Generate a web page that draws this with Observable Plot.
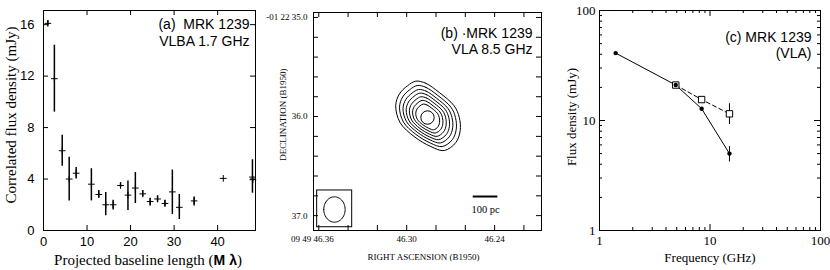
<!DOCTYPE html>
<html><head><meta charset="utf-8">
<script src="https://cdn.jsdelivr.net/npm/d3@7"></script>
<script src="https://cdn.jsdelivr.net/npm/@observablehq/plot@0.6"></script>
<style>
html,body{margin:0;padding:0;background:#fff;}
#wrap{position:relative;width:830px;height:270px;overflow:hidden;background:#fff;}
#wrap > div{position:absolute;top:0;height:270px;}
#wrap svg{overflow:visible;}
</style></head><body>
<div id="wrap"><div id="pa" style="left:0;width:280px"></div><div id="pb" style="left:280px;width:270px"></div><div id="pc" style="left:550px;width:280px"></div></div>
<script>
// ---------- Panel (a) data: VLBA 1.7 GHz visibility amplitudes ----------
const baseline = [1.0, 2.5, 4.3, 5.9, 7.5, 11.0, 12.7, 14.3, 16.0, 17.7, 19.4, 21.1, 22.8, 24.5, 26.2, 27.9, 29.6, 31.2, 34.6, 41.3, 48.0, 48.1];
const corrFlux = [16.1, 11.8, 6.2, 4.0, 4.45, 3.6, 2.8, 2.0, 2.0, 3.5, 2.75, 3.3, 2.85, 2.25, 2.45, 2.1, 3.0, 1.8, 2.3, 4.05, 4.15, 3.95];
const corrLo = [15.9, 9.2, 5.0, 2.3, 4.0, 2.3, 2.5, 1.15, 1.6, 3.35, 1.55, 2.1, 2.6, 1.9, 2.2, 1.85, 1.25, 0.85, 1.9, 4.05, 2.9, 3.95];
const corrHi = [16.3, 14.4, 7.4, 5.7, 4.9, 4.8, 3.1, 2.95, 2.35, 3.7, 3.85, 4.5, 3.1, 2.5, 2.7, 2.35, 4.7, 2.8, 2.6, 4.05, 5.5, 3.95];
const aXTicks = [0, 10, 20, 30, 40];
const aYTicks = [0, 4, 8, 12, 16];

// ---------- Panel (b) data: VLA 8.5 GHz map ----------
const raTicks = [46.36, 46.34, 46.32, 46.30, 46.28, 46.26, 46.24, 46.22];
const raLabelTicks = [46.36, 46.30, 46.24];
const raLabels = ["09 49 46.36", "46.30", "46.24"];
const decTicks = [35.0, 35.2, 35.4, 35.6, 35.8, 36.0, 36.2, 36.4, 36.6, 36.8, 37.0];
const decLabelTicks = [35.0, 36.0, 37.0];
const decLabels = ["-01 22 35.0", "36.0", "37.0"];
const peakRA = 46.2858, peakDec = 36.01;
// outer contour vertices (offsets from peak: RA in s, Dec in arcsec)
const outerRA = [0.0080, 0.0012, -0.0080, -0.0182, -0.0217, -0.0223, -0.0193, -0.0114, -0.0023, 0.0091, 0.0187, 0.0217, 0.0193, 0.0137];
const outerDec = [-0.367, -0.346, -0.253, -0.118, 0.0, 0.134, 0.253, 0.333, 0.293, 0.192, 0.051, -0.118, -0.235, -0.320];
const contourScales = [1, 0.88, 0.77, 0.67, 0.57, 0.47, 0.37];
const beamBoxRA = [46.3611, 46.3372];
const beamBoxDec = [36.746, 37.117];
const beamRA = 46.3493, beamDec = 36.938, beamHalfRA = 0.0073, beamHalfDec = 0.128;
const scaleBarRA = [46.2546, 46.2378];
const scaleBarDec = 36.807;
const scaleLabel = "100 pc";

// ---------- Panel (c) data: VLA spectrum ----------
const freqSolid = [1.4, 4.9, 8.4, 15.0];
const fluxSolid = [41, 21, 12.8, 5.0];
const solidLo = [41, 21, 12.8, 4.2];
const solidHi = [41, 21, 12.8, 5.8];
const freqDashed = [4.9, 8.4, 15.0];
const fluxDashed = [21, 15.5, 11.5];
const dashedLo = [21, 15.5, 9.2];
const dashedHi = [21, 15.5, 14.2];
const cMajor = [1, 10, 100];
const cMinor = [2, 3, 4, 5, 6, 7, 8, 9, 20, 30, 40, 50, 60, 70, 80, 90];

const sans = "'Liberation Sans', Arial, Helvetica, sans-serif";
const serif = "'Liberation Serif', 'Times New Roman', Times, serif";
const baseStyle = {fontFamily: serif, background: "transparent", overflow: "visible", color: "#000"};
const LM = {lineAnchor: "middle"};

function xTicks(vals, fh, len, o = {}) {
  return [Plot.ruleX(vals, {x: d => d, insetTop: fh - len, stroke: "#000", ...o}),
          Plot.ruleX(vals, {x: d => d, insetBottom: fh - len, stroke: "#000", ...o})];
}
function yTicks(vals, fw, len, o = {}) {
  return [Plot.ruleY(vals, {y: d => d, insetRight: fw - len, stroke: "#000", ...o}),
          Plot.ruleY(vals, {y: d => d, insetLeft: fw - len, stroke: "#000", ...o})];
}

// ---------- Panel (a) ----------
{
  const m = {top: 10, right: 25, bottom: 40, left: 43};
  const fh = 270 - m.top - m.bottom, fw = 280 - m.left - m.right;
  const pts = baseline.map((b, i) => ({b, f: corrFlux[i], lo: corrLo[i], hi: corrHi[i]}));
  const svg = Plot.plot({
    width: 280, height: 270,
    marginTop: m.top, marginRight: m.right, marginBottom: m.bottom, marginLeft: m.left,
    x: {domain: [0, 48.7], axis: null},
    y: {domain: [0, 17.1], axis: null},
    style: baseStyle,
    marks: [
      Plot.frame({stroke: "#000"}),
      ...xTicks(aXTicks, fh, 5),
      ...yTicks(aYTicks, fw, 5),
      Plot.ruleX(pts.filter(d => d.hi > d.lo), {x: "b", y1: "lo", y2: "hi", stroke: "#000", strokeWidth: 1.5}),
      Plot.dot(pts, {x: "b", y: "f", symbol: "plus", r: 2.3, stroke: "#000", strokeWidth: 1}),
      Plot.text(aXTicks, {x: d => d, text: d => `${d}`, frameAnchor: "bottom", dy: 11, fontFamily: sans, fontSize: 13, ...LM}),
      Plot.text(aYTicks, {y: d => d, text: d => `${d}`, frameAnchor: "left", textAnchor: "end", dx: -9, fontFamily: sans, fontSize: 13, ...LM}),
      Plot.text(["Correlated flux density (mJy)"], {frameAnchor: "left", textAnchor: "middle", rotate: -90, dx: -32, dy: -5.5, fontFamily: serif, fontSize: 15, ...LM}),
      Plot.text(["Projected baseline length (Mλ)"], {frameAnchor: "bottom", textAnchor: "middle", dx: -1.5, dy: 30, fontFamily: serif, fontSize: 15, ...LM}),
      Plot.text(["(a)\u00a0 MRK 1239"], {frameAnchor: "top-right", textAnchor: "end", dx: -6, dy: 14.5, fontFamily: sans, fontSize: 14, ...LM}),
      Plot.text(["VLBA 1.7 GHz"], {frameAnchor: "top-right", textAnchor: "end", dx: -6, dy: 30.8, fontFamily: sans, fontSize: 14, ...LM})
    ]
  });
  d3.select(svg).selectAll("text").filter(function() { return this.textContent === "Projected baseline length (Mλ)"; })
    .each(function() {
      const t = d3.select(this);
      t.text(null);
      t.append("tspan").text("Projected baseline length (");
      t.append("tspan").attr("font-family", sans).attr("font-weight", "bold").attr("font-size", 14).text("M λ");
      t.append("tspan").text(")");
    });
  document.getElementById("pa").appendChild(svg);
}

// ---------- Panel (b) ----------
{
  const m = {top: 12, right: 9, bottom: 40, left: 33};
  const fh = 270 - m.top - m.bottom, fw = 270 - m.left - m.right;
  const contourData = contourScales.flatMap((s, k) => outerRA.map((r, i) => ({k, ra: peakRA + s * r, dec: peakDec + s * outerDec[i]})));
  const beam = d3.range(0, 361, 6).map(t => ({ra: beamRA + beamHalfRA * Math.cos(t * Math.PI / 180), dec: beamDec + beamHalfDec * Math.sin(t * Math.PI / 180)}));
  const svg = Plot.plot({
    width: 270, height: 270,
    marginTop: m.top, marginRight: m.right, marginBottom: m.bottom, marginLeft: m.left,
    x: {domain: [46.3636, 46.208], axis: null},
    y: {domain: [37.15, 34.95], axis: null},
    style: baseStyle,
    marks: [
      Plot.frame({stroke: "#000"}),
      ...xTicks(raTicks, fh, 5),
      ...yTicks(decTicks, fw, 5),
      Plot.line(contourData, {x: "ra", y: "dec", z: "k", curve: "catmull-rom-closed", stroke: "#000", strokeWidth: 1}),
      Plot.dot([{ra: peakRA, dec: peakDec}], {x: "ra", y: "dec", r: 6.7, stroke: "#000", fill: "none", strokeWidth: 1}),
      Plot.rect([{}], {x1: () => beamBoxRA[0], x2: () => beamBoxRA[1], y1: () => beamBoxDec[0], y2: () => beamBoxDec[1], fill: "none", stroke: "#000", strokeWidth: 1}),
      Plot.line(beam, {x: "ra", y: "dec", stroke: "#000", strokeWidth: 1}),
      Plot.ruleY([scaleBarDec], {y: d => d, x1: () => scaleBarRA[0], x2: () => scaleBarRA[1], stroke: "#000", strokeWidth: 2}),
      Plot.text([scaleLabel], {x: () => (scaleBarRA[0] + scaleBarRA[1]) / 2, y: () => 36.943, fontFamily: serif, fontSize: 10.5, ...LM}),
      Plot.text([raLabelTicks[0]], {x: d => d, text: () => raLabels[0], frameAnchor: "bottom", textAnchor: "middle", dy: 8.5, dx: -6.5, fontFamily: serif, fontSize: 9, ...LM}),
      Plot.text(raLabelTicks.slice(1), {x: d => d, text: (d, i) => raLabels[i + 1], frameAnchor: "bottom", textAnchor: "middle", dy: 8.5, fontFamily: serif, fontSize: 9, ...LM}),
      Plot.text(decLabelTicks, {y: d => d, text: (d, i) => decLabels[i], frameAnchor: "left", textAnchor: "end", dx: -6, fontFamily: serif, fontSize: 9, ...LM}),
      Plot.text(["RIGHT ASCENSION (B1950)"], {frameAnchor: "bottom", textAnchor: "middle", dx: -4, dy: 27, fontFamily: serif, fontSize: 9, ...LM}),
      Plot.text(["DECLINATION (B1950)"], {frameAnchor: "left", textAnchor: "middle", rotate: -90, dx: -30, dy: -7, fontFamily: serif, fontSize: 9, ...LM}),
      Plot.text(["(b) ·MRK 1239"], {frameAnchor: "top-right", textAnchor: "end", dx: -9, dy: 21.3, fontFamily: sans, fontSize: 14, ...LM}),
      Plot.text(["VLA 8.5 GHz"], {frameAnchor: "top-right", textAnchor: "end", dx: -9, dy: 37.3, fontFamily: sans, fontSize: 14, ...LM})
    ]
  });
  document.getElementById("pb").appendChild(svg);
}

// ---------- Panel (c) ----------
{
  const m = {top: 10, right: 10, bottom: 40, left: 49};
  const fh = 270 - m.top - m.bottom, fw = 280 - m.left - m.right;
  const solid = freqSolid.map((f, i) => ({f, s: fluxSolid[i], lo: solidLo[i], hi: solidHi[i]}));
  const dashed = freqDashed.map((f, i) => ({f, s: fluxDashed[i], lo: dashedLo[i], hi: dashedHi[i]}));
  const svg = Plot.plot({
    width: 280, height: 270,
    marginTop: m.top, marginRight: m.right, marginBottom: m.bottom, marginLeft: m.left,
    x: {type: "log", domain: [1, 100], axis: null},
    y: {type: "log", domain: [1, 100], axis: null},
    style: baseStyle,
    marks: [
      Plot.frame({stroke: "#000"}),
      ...xTicks(cMajor, fh, 6),
      ...xTicks(cMinor, fh, 3),
      ...yTicks(cMajor, fw, 6),
      ...yTicks(cMinor, fw, 3),
      Plot.ruleX(dashed.filter(d => d.hi > d.lo), {x: "f", y1: "lo", y2: "hi", stroke: "#000"}),
      Plot.ruleX(solid.filter(d => d.hi > d.lo), {x: "f", y1: "lo", y2: "hi", stroke: "#000"}),
      Plot.line(dashed, {x: "f", y: "s", stroke: "#000", strokeWidth: 1, strokeDasharray: "4,3"}),
      Plot.line(solid, {x: "f", y: "s", stroke: "#000", strokeWidth: 1}),
      Plot.dot(dashed, {x: "f", y: "s", symbol: "square", r: 3.6, fill: "white", stroke: "#000", strokeWidth: 1}),
      Plot.dot(solid, {x: "f", y: "s", r: 2.2, fill: "#000", stroke: "none"}),
      Plot.text(cMajor, {x: d => d, text: d => `${d}`, frameAnchor: "bottom", textAnchor: "middle", dy: 10, fontFamily: serif, fontSize: 13, ...LM}),
      Plot.text(cMajor, {y: d => d, text: d => `${d}`, frameAnchor: "left", textAnchor: "end", dx: -4, fontFamily: serif, fontSize: 13, ...LM}),
      Plot.text(["Frequency (GHz)"], {frameAnchor: "bottom", textAnchor: "middle", dy: 27, fontFamily: serif, fontSize: 13, ...LM}),
      Plot.text(["Flux density (mJy)"], {frameAnchor: "left", textAnchor: "middle", rotate: -90, dx: -28, dy: -3.5, fontFamily: serif, fontSize: 13, ...LM}),
      Plot.text(["(c) MRK 1239"], {frameAnchor: "top-right", textAnchor: "end", dx: -9, dy: 26.8, fontFamily: sans, fontSize: 14, ...LM}),
      Plot.text(["(VLA)"], {frameAnchor: "top-right", textAnchor: "end", dx: -9, dy: 43, fontFamily: sans, fontSize: 14, ...LM})
    ]
  });
  document.getElementById("pc").appendChild(svg);
}
</script>
</body></html>
